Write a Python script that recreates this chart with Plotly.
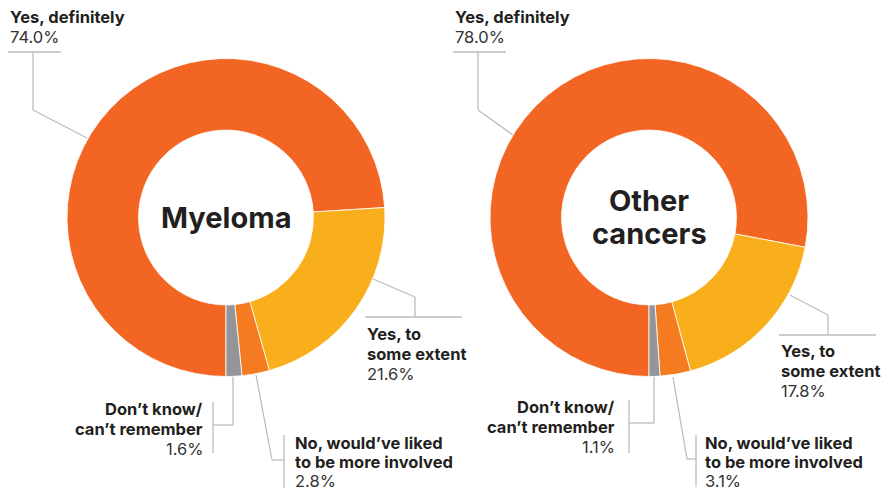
import plotly.graph_objects as go

W, H = 891, 492

categories = ["Yes, definitely", "Yes, to some extent",
              "No, would've liked to be more involved", "Don't know/can't remember"]
label_lines = [["Yes, definitely"], ["Yes, to", "some extent"],
               ["No, would’ve liked", "to be more involved"], ["Don’t know/", "can’t remember"]]
myeloma = [74.0, 21.6, 2.8, 1.6]
other_cancers = [78.0, 17.8, 3.1, 1.1]

colors = ["#F26522", "#F9AE1B", "#F47B20", "#939598"]
TEXT = "#231F20"
LINE = "#BDBDBD"
FONT = "Inter"


def px(x):
    return x / W


def py(y):
    return 1 - y / H


fig = go.Figure()

centers = [(226, 217.5), (649, 217.5)]
R = 159
for vals, (cx, cy) in zip([myeloma, other_cancers], centers):
    fig.add_trace(go.Pie(
        labels=categories, values=vals, sort=False, direction="clockwise",
        rotation=180, hole=0.55, textinfo="none", showlegend=False,
        marker=dict(colors=colors, line=dict(color="white", width=0.8)),
        domain=dict(x=[px(cx - R), px(cx + R)], y=[py(cy + R), py(cy - R)]),
        hovertemplate="%{label}: %{value:.1f}%<extra></extra>",
    ))

# center titles
for txt, x, y in [("Myeloma", 226, 217), ("Other", 649, 200), ("cancers", 649, 233)]:
    fig.add_annotation(x=px(x), y=py(y), text=f"<b>{txt}</b>", showarrow=False,
                       xref="paper", yref="paper", xanchor="center", yanchor="middle",
                       font=dict(family=FONT, size=29, color=TEXT))

# label positions (pixel): x, top y, anchor, line step
label_pos = [
    [(8, 4.5, "left", 20.3), (365, 321.5, "left", 20.3), (293, 431, "left", 19.2), (205, 396.5, "right", 20.3)],
    [(453, 4.5, "left", 20.3), (779, 338.5, "left", 20.3), (703, 431, "left", 19.2), (617, 394.5, "right", 20.3)],
]
for vals, poss in zip([myeloma, other_cancers], label_pos):
    for lines, v, (x, y, anc, step) in zip(label_lines, vals, poss):
        items = [(f"<b>{l}</b>", TEXT) for l in lines] + [(f"{v:.1f}%", "#333333")]
        for i, (t, c) in enumerate(items):
            fig.add_annotation(x=px(x), y=py(y + i * step), text=t, showarrow=False,
                               xref="paper", yref="paper", xanchor=anc, yanchor="top",
                               align=anc, font=dict(family=FONT, size=16.5, color=c))

leaders = [
    [(8, 52, 61, 52), (33, 52, 33, 110), (33, 110, 87, 138)],
    [(373, 279, 415, 297), (415, 297, 415, 317), (365, 317, 462, 317)],
    [(233, 377, 233, 425), (233, 425, 213, 425), (213, 402, 213, 453)],
    [(256, 375, 272, 460), (272, 460, 284, 460), (284, 435, 284, 488)],
    [(453, 52, 506, 52), (478, 52, 478, 110), (478, 110, 513, 135)],
    [(790, 295, 828, 315), (828, 315, 828, 335), (779, 335, 876, 335)],
    [(654, 377, 654, 423), (654, 423, 629, 423), (629, 400, 629, 453)],
    [(673, 377, 687, 459), (687, 459, 696, 459), (696, 435, 696, 487)],
]
for group in leaders:
    for x0, y0, x1, y1 in group:
        fig.add_shape(type="line", xref="paper", yref="paper",
                      x0=px(x0), y0=py(y0), x1=px(x1), y1=py(y1),
                      line=dict(color=LINE, width=1.3))

fig.update_layout(width=W, height=H, margin=dict(l=0, r=0, t=0, b=0),
                  paper_bgcolor="white", plot_bgcolor="white",
                  font=dict(family=FONT, color=TEXT))

fig.write_html("out.html")
